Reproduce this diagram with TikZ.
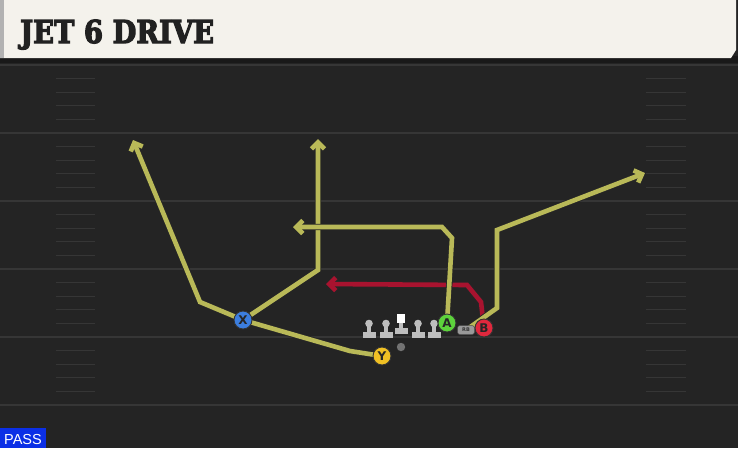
\documentclass[tikz,border=0pt]{standalone}
\usepackage{fontspec}
\usetikzlibrary{arrows.meta}
\newfontfamily\titlefont[FakeBold=4]{DejaVu Serif Bold}
\newfontfamily\plfont{DejaVu Sans Bold}
\newfontfamily\passfont{Liberation Sans}
\definecolor{fieldbg}{HTML}{242424}
\definecolor{ydline}{HTML}{363636}
\definecolor{hashc}{HTML}{363636}
\definecolor{cream}{HTML}{F4F2EC}
\definecolor{routey}{HTML}{B9B958}
\definecolor{router}{HTML}{A8132F}
\definecolor{plblue}{HTML}{3C7EDE}
\definecolor{plgreen}{HTML}{5DD23C}
\definecolor{plred}{HTML}{E0283D}
\definecolor{plyellow}{HTML}{F0C024}
\definecolor{olgray}{HTML}{BEBEBE}
\definecolor{passblue}{HTML}{0B2FE6}
\tikzset{
  yroute/.style={draw=routey, line width=4.6pt,
    preaction={draw=black!85, line width=6.4pt}},
  rroute/.style={draw=router, line width=4.6pt,
    preaction={draw=black!85, line width=6.4pt}},
  tip/.style={-{Straight Barb[length=6.5pt,width=13pt]}},
  player/.style={circle, minimum size=18pt, inner sep=0pt, draw=black!80,
    line width=0.9pt, font=\plfont\fontsize{12}{12}\selectfont, text=black!85},
  lineman/.style={fill=olgray}
}
\begin{document}
\begin{tikzpicture}[x=1pt,y=-1pt]
\useasboundingbox (0,0) rectangle (738,448);
% field
\fill[fieldbg] (0,0) rectangle (738,448);
\fill[black!90] (0,56) rectangle (738,63);
% yard lines
\foreach \yy in {65,133,201,269,337,405}
  \draw[ydline, line width=2pt] (0,\yy) -- (738,\yy);
% hash marks
\foreach \yy in {65,133,201,269,337} {
  \foreach \k in {1,2,3,4} {
    \draw[hashc, line width=1.3pt] (56,\yy+13.6*\k) -- (95,\yy+13.6*\k);
    \draw[hashc, line width=1.3pt] (646,\yy+13.6*\k) -- (686,\yy+13.6*\k);
  }
}
% header
\fill[cream] (0,0) -- (736,0) -- (736,50) -- (731,58) -- (0,58) -- cycle;
\fill[black!30] (0,0) rectangle (4,58);
\node[anchor=base west, inner sep=0pt, text=black!87] (title) at (20,43)
  {\scalebox{0.87}[1]{\titlefont\fontsize{31.5}{31.5}\selectfont JET 6 DRIVE}};
% pass tag
\fill[passblue] (0,428) rectangle (46,448);
\node[anchor=base west, inner sep=0pt, text=white] (pass) at (4,444)
  {\passfont\fontsize{14.5}{14.5}\selectfont PASS};
% player positions
\coordinate (Xp) at (243,320);
\coordinate (Yp) at (382,356);
\coordinate (Ap) at (447,323);
\coordinate (Bp) at (484,328);
\coordinate (RBp) at (466,330);
% route waypoints
\coordinate (y1) at (350,351);
\coordinate (y2) at (200,302);
\coordinate (yend) at (133,140);
\coordinate (x1) at (318,270);
\coordinate (xend) at (318,139);
\coordinate (a1) at (452,238);
\coordinate (a2) at (442,227);
\coordinate (aend) at (293,227);
\coordinate (r1) at (497,308);
\coordinate (r2) at (497,230);
\coordinate (rend) at (645,173);
\coordinate (b1) at (481,302);
\coordinate (b2) at (467,285);
\coordinate (bend) at (326,284);
% red route
\draw[rroute, tip] (Bp) -- (b1) -- (b2) -- (bend);
% yellow routes
\draw[yroute, tip] (Yp) -- (y1) -- (Xp) -- (y2) -- (yend);
\draw[yroute, tip] (Xp) -- (x1) -- (xend);
\draw[yroute, tip] (Ap) -- (a1) -- (a2) -- (aend);
\draw[yroute, tip] (RBp) -- (r1) -- (r2) -- (rend);
% offensive line
\foreach \lx/\nm in {369/t1,386/g1,418/g2,434/t2} {
  \fill[lineman] (\lx,323.5) circle (3.8);
  \fill[lineman] (\lx-2.2,324) rectangle (\lx+2.2,333);
  \fill[lineman] (\lx-6.5,332) rectangle (\lx+6.5,338);
  \coordinate (\nm) at (\lx,330);
}
\fill[white] (397,314) rectangle (405,323);
\fill[lineman] (398.8,323) rectangle (403.2,329);
\fill[lineman] (394.5,328) rectangle (407.5,334);
\coordinate (ctr) at (401,325);
% ball / QB
\fill[black!55] (401,347) circle (4.2);
% players
\node[player, fill=plblue] (X) at (Xp) {X};
\node[player, fill=plyellow] (Y) at (Yp) {Y};
\node[player, fill=plgreen] (A) at (Ap) {A};
\node[player, fill=plred] (B) at (Bp) {B};
\node[fill=black!40, draw=black!70, line width=0.5pt, rounded corners=2.5pt,
  minimum width=17pt, minimum height=9pt, inner sep=0pt,
  font=\plfont\fontsize{5}{5}\selectfont, text=black!80] (RB) at (RBp) {RB};
\end{tikzpicture}
\end{document}
